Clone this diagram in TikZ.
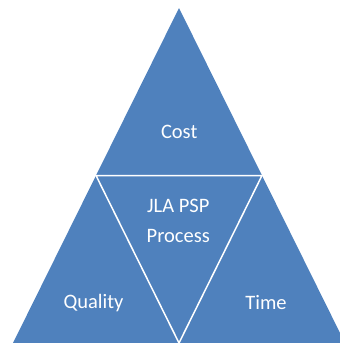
\documentclass[tikz,border=0pt]{standalone}
\usepackage{fontspec}
\setmainfont{Carlito}
\definecolor{tblue}{HTML}{4F81BD}
\begin{document}
\begin{tikzpicture}[x=1pt,y=-1pt,
  tri/.style={fill=tblue,draw=white,line width=1.5pt,line join=miter},
  lbl/.style={text=white,font=\fontsize{20.5}{30}\selectfont,align=center,inner sep=0pt}]
\useasboundingbox (0,0) rectangle (340,343);
\begin{scope}
\clip (0,0) rectangle (340,343);
\coordinate (A) at (179,8);
\coordinate (B) at (13,343);
\coordinate (C) at (345,343);
\coordinate (AB) at (96,175.5);
\coordinate (AC) at (262,175.5);
\coordinate (BC) at (179,343);
\fill[tblue] (A) -- (B) -- (C) -- cycle;
\draw[white,line width=1.5pt] (AB) -- (AC) -- (BC) -- cycle;
\end{scope}
\node[lbl] (cost) at (179.2,132) {Cost};
\node[lbl] (jla) at (178.3,221) {JLA PSP\\Process};
\node[lbl] (qual) at (93.5,303) {Quality};
\node[lbl] (time) at (266,303) {Time};
\end{tikzpicture}
\end{document}
